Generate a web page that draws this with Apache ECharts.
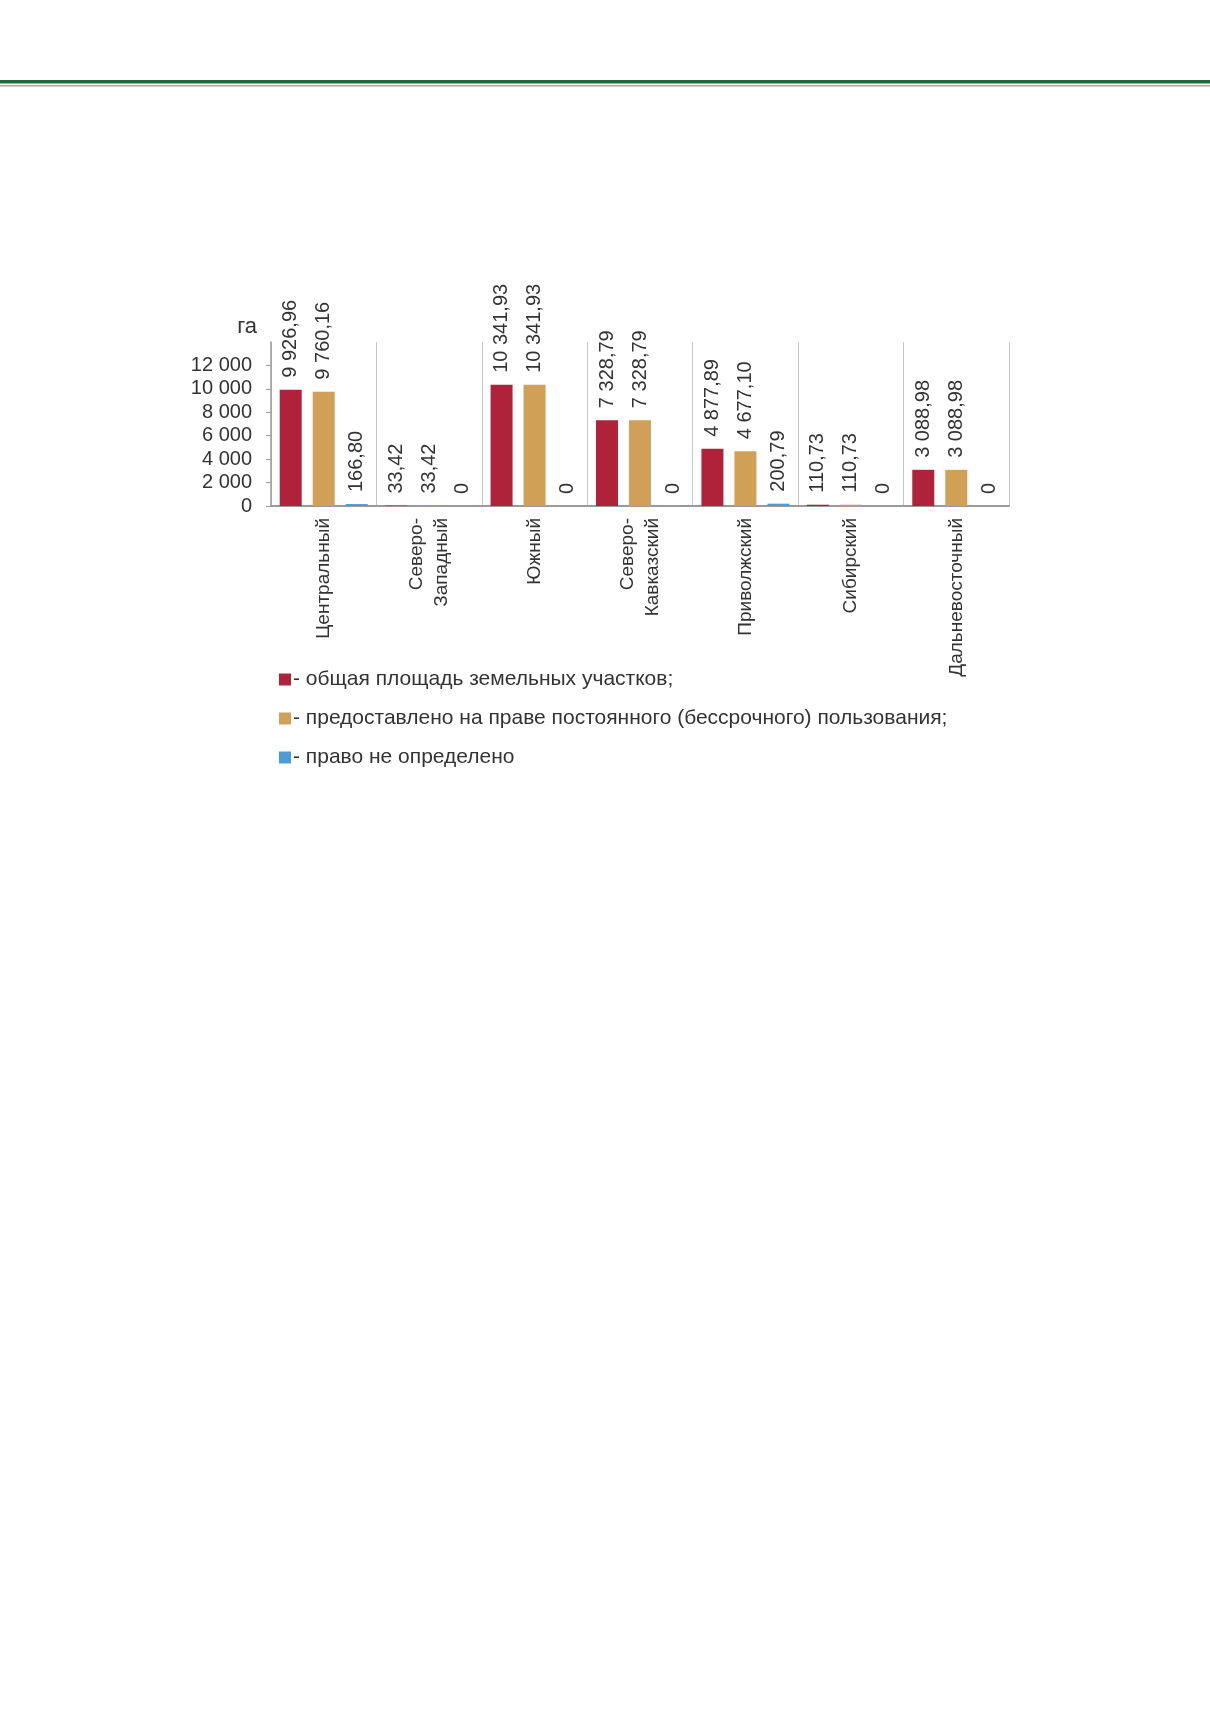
<!DOCTYPE HTML>
<html>
	<head>
		<meta http-equiv="Content-type" content="text/html; charset=UTF-8" />
		<script type="text/javascript" src="https://cdn.jsdelivr.net/npm/echarts@6/dist/echarts.min.js"></script>
		<style>
			html, body { margin: 0; padding: 0; background: #fff; }
		</style>
	</head>
	<body>
		<div id="div_1" style="width: 1210px;height:1712px;"></div>
	</body>
</html>

<script>
	// федеральные округа
	var regions = ['Центральный', 'Северо-\nЗападный', 'Южный', 'Северо-\nКавказский', 'Приволжский', 'Сибирский', 'Дальневосточный']
	var names = ['общая площадь земельных участков;', 'предоставлено на праве постоянного (бессрочного) пользования;', 'право не определено']
	// га
	var total = [9926.96, 33.42, 10341.93, 7328.79, 4877.89, 110.73, 3088.98]
	var permanent = [9760.16, 33.42, 10341.93, 7328.79, 4677.10, 110.73, 3088.98]
	var undefinedRight = [166.80, 0, 0, 0, 200.79, 0, 0]
	var yTicks = [0, 2000, 4000, 6000, 8000, 10000, 12000]

	var font = "'Liberation Sans', Arial, sans-serif"

	function groupDigits(s) {
		return s.replace(/\B(?=(\d{3})+(?!\d))/g, ' ')
	}
	function fmt(v) {
		if (v === 0) return '0'
		var p = v.toFixed(2).split('.')
		return groupDigits(p[0]) + ',' + p[1]
	}

	var myChart = echarts.init(document.getElementById("div_1"))

	function barSeries(name, data, color) {
		return {
			name: name,
			type: 'bar',
			data: data,
			barWidth: 22,
			barGap: '50%',
			itemStyle: { color: color },
			label: {
				show: true,
				position: 'top',
				rotate: 90,
				align: 'left',
				verticalAlign: 'middle',
				distance: 12,
				fontFamily: font,
				fontSize: 20,
				color: '#333',
				formatter: function (p) { return fmt(p.value) }
			}
		}
	}

	var option = {
		backgroundColor: '#fff',
		animation: false,
		textStyle: { fontFamily: font },
		graphic: [
			{ type: 'rect', shape: { x: 0, y: 80, width: 1210, height: 3.5 }, style: { fill: '#1d6b3c' } },
			{ type: 'rect', shape: { x: 0, y: 85, width: 1210, height: 1.5 }, style: { fill: '#86bd96' } }
		],
		legend: {
			orient: 'vertical',
			left: 274,
			top: 664,
			icon: 'rect',
			itemWidth: 12,
			itemHeight: 12,
			itemGap: 18,
			data: names,
			formatter: function (n) { return '- ' + n },
			textStyle: { fontFamily: font, fontSize: 21, lineHeight: 21, color: '#333', padding: [0, 0, 0, -3] }
		},
		grid: {
			left: 271,
			right: 201,
			top: 342,
			bottom: 1206,
			containLabel: false
		},
		xAxis: {
			type: 'category',
			data: regions,
			axisLine: { lineStyle: { color: '#9a9a9a', width: 2 } },
			axisTick: { show: false },
			splitLine: { show: true, lineStyle: { color: '#c8c8c8', width: 1 } },
			axisLabel: {
				interval: 0,
				rotate: 90,
				margin: 12,
				fontFamily: font,
				fontSize: 19,
				lineHeight: 25,
				color: '#333'
			}
		},
		yAxis: {
			type: 'value',
			min: 0,
			max: 14000,
			interval: 2000,
			name: 'га',
			nameLocation: 'end',
			nameGap: 15,
			nameTextStyle: { fontFamily: font, fontSize: 22, color: '#333', align: 'right', verticalAlign: 'middle', padding: [0, 14, 0, 0] },
			axisLine: { show: true, lineStyle: { color: '#9a9a9a', width: 1.5 } },
			axisTick: { show: true, length: 5, customValues: yTicks, lineStyle: { color: '#9a9a9a' } },
			splitLine: { show: false },
			axisLabel: {
				margin: 19,
				customValues: yTicks,
				fontFamily: font,
				fontSize: 20,
				color: '#333',
				formatter: function (v) {
					return groupDigits(String(v))
				}
			}
		},
		series: [
			barSeries(names[0], total, '#b0213a'),
			barSeries(names[1], permanent, '#cfa055'),
			barSeries(names[2], undefinedRight, '#4a9ed8')
		]
	}
	myChart.setOption(option)
</script>
